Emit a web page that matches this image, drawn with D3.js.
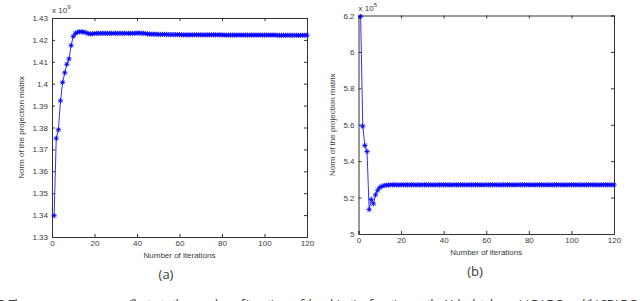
<!DOCTYPE html>
<html>
<head>
<meta charset="utf-8">
<script src="https://cdn.jsdelivr.net/npm/d3@7/dist/d3.min.js"></script>
<style>
body{margin:0;background:#fff}
svg text{font-family:"Liberation Sans",Arial,sans-serif;fill:#3a3a3a}
</style>
</head>
<body>
<div id="chart"></div>
<script>
// iterations 1..120
var iterations = d3.range(1, 121)

// (a) norm of projection matrix, x 10^9
var normA = [
	1.3397,1.3751,1.3790,1.3922,1.4006,1.4050,1.4089,1.4113,1.4175,1.4216,
	1.4230,1.4235,1.4237,1.4237,1.4236,1.4233,1.4229,1.4227,1.4228,1.4229,
	1.4230,1.4230,1.4230,1.4230,1.4230,1.4230,1.4230,1.4230,1.4230,1.4230,
	1.4230,1.4230,1.4230,1.4230,1.4230,1.4230,1.4230,1.4230,1.4230,1.4231,
	1.4231,1.4230,1.4230,1.4229,1.4227,1.4227,1.4226,1.4226,1.4226,1.4225,
	1.4225,1.4225,1.4225,1.4225,1.4224,1.4224,1.4224,1.4224,1.4224,1.4224,
	1.4223,1.4223,1.4223,1.4223,1.4223,1.4223,1.4223,1.4223,1.4223,1.4223,
	1.4223,1.4223,1.4223,1.4223,1.4223,1.4223,1.4223,1.4223,1.4223,1.4223,
	1.4222,1.4222,1.4222,1.4222,1.4222,1.4222,1.4222,1.4222,1.4222,1.4222,
	1.4222,1.4222,1.4222,1.4222,1.4222,1.4222,1.4222,1.4222,1.4222,1.4222,
	1.4222,1.4222,1.4222,1.4222,1.4222,1.4221,1.4221,1.4221,1.4221,1.4221,
	1.4221,1.4221,1.4221,1.4221,1.4221,1.4221,1.4221,1.4221,1.4221,1.4221]

// (b) norm of projection matrix, x 10^5
var normB = [
	6.195,5.592,5.486,5.453,5.134,5.190,5.166,5.215,5.240,5.255,
	5.262,5.266,5.268,5.269,5.270,5.270,5.270,5.270,5.270,5.270,
	5.270,5.270,5.270,5.270,5.270,5.270,5.270,5.270,5.270,5.270,
	5.270,5.270,5.270,5.270,5.270,5.270,5.270,5.270,5.270,5.270,
	5.270,5.270,5.270,5.270,5.270,5.270,5.270,5.270,5.270,5.270,
	5.270,5.270,5.270,5.270,5.270,5.270,5.270,5.270,5.270,5.270,
	5.270,5.270,5.270,5.270,5.270,5.270,5.270,5.270,5.270,5.270,
	5.270,5.270,5.270,5.270,5.270,5.270,5.270,5.270,5.270,5.270,
	5.270,5.270,5.270,5.270,5.270,5.270,5.270,5.270,5.270,5.270,
	5.270,5.270,5.270,5.270,5.270,5.270,5.270,5.270,5.270,5.270,
	5.270,5.270,5.270,5.270,5.270,5.270,5.270,5.270,5.270,5.270,
	5.270,5.270,5.270,5.270,5.270,5.270,5.270,5.270,5.270,5.270]

var xTicks = [0,20,40,60,80,100,120]
var yTicksA = [1.33,1.34,1.35,1.36,1.37,1.38,1.39,1.40,1.41,1.42,1.43]
var yTicksB = [5,5.2,5.4,5.6,5.8,6,6.2]

var svg = d3.select('#chart').append('svg')
	.attr('width', 640)
	.attr('height', 301)
svg.append('rect').attr('width',640).attr('height',301).attr('fill','#fff')

var star = 'M-2.6,0H2.6M0,-2.6V2.6M-1.9,-1.9L1.9,1.9M-1.9,1.9L1.9,-1.9'
var fmt = d => String(+d.toFixed(2))

function panel(o){
	var x = d3.scaleLinear().domain([0,120]).range([o.x0,o.x1])
	var y = d3.scaleLinear().domain(o.ydom).range([o.y1,o.y0])
	var g = svg.append('g')

	// inward ticks on all four sides, labels only bottom / left
	g.append('g').attr('transform','translate(0,'+o.y1+')')
		.call(d3.axisBottom(x).tickValues(xTicks).tickSize(-3).tickPadding(3).tickFormat(d=>d))
	g.append('g').attr('transform','translate(0,'+o.y0+')')
		.call(d3.axisTop(x).tickValues(xTicks).tickSize(-3).tickFormat(''))
	g.append('g').attr('transform','translate('+o.x0+',0)')
		.call(d3.axisLeft(y).tickValues(o.yticks).tickSize(-3).tickPadding(4).tickFormat(fmt))
	g.append('g').attr('transform','translate('+o.x1+',0)')
		.call(d3.axisRight(y).tickValues(o.yticks).tickSize(-3).tickFormat(''))
	g.selectAll('.domain').attr('stroke','#333').attr('stroke-width',1)
	g.selectAll('.tick line').attr('stroke','#333')
	g.selectAll('.tick text').style('font-size','8px').attr('fill','#3a3a3a')

	var line = d3.line().x((d,i)=>x(iterations[i])).y(d=>y(d))
	g.append('path').datum(o.data)
		.attr('d', line)
		.attr('fill','none')
		.attr('stroke','#1a1aff')
		.attr('stroke-width',0.9)
	g.append('g').selectAll('path').data(o.data).join('path')
		.attr('transform',(d,i)=>'translate('+x(iterations[i])+','+y(d)+')')
		.attr('d', star)
		.attr('fill','none')
		.attr('stroke','#0000ff')
		.attr('stroke-width',0.9)

	// exponent
	var ex = g.append('text').attr('x',o.x0).attr('y',o.y0-5).style('font-size','8px')
	ex.append('tspan').text('x 10')
	ex.append('tspan').attr('dy',-4).style('font-size','6px').text(o.exp)

	g.append('text')
		.attr('x',(o.x0+o.x1)/2).attr('y',o.y1+21)
		.attr('text-anchor','middle').style('font-size','8px')
		.text('Number of iterations')
	g.append('text')
		.attr('transform','translate('+o.ylabX+','+((o.y0+o.y1)/2)+') rotate(-90)')
		.attr('text-anchor','middle').style('font-size','8px')
		.text('Norm of the projection matrix')
	g.append('text')
		.attr('x',o.capX).attr('y',o.y1+42)
		.attr('text-anchor','middle')
		.style('font-size','13px').style('font-family','"Open Sans",sans-serif')
		.attr('fill','#222')
		.text(o.cap)
}

panel({x0:52, x1:307, y0:18, y1:237, ydom:[1.33,1.43], yticks:yTicksA, data:normA, exp:'9', ylabX:24, capX:166, cap:'(a)'})
panel({x0:358.5, x1:614, y0:15.5, y1:234, ydom:[5,6.2], yticks:yTicksB, data:normB, exp:'5', ylabX:335, capX:475, cap:'(b)'})

// caption, cut off by the bottom edge
svg.append('text')
	.attr('x',-2).attr('y',309)
	.attr('textLength',640)
	.style('font-size','13px').style('font-family','"Open Sans",sans-serif')
	.attr('fill','#555')
	.text('3. The convergence curves illustrate the number of iterations of the objective function on the Yale database: (a) P-LDG and (b) 2DLDG')
</script>
</body>
</html>
